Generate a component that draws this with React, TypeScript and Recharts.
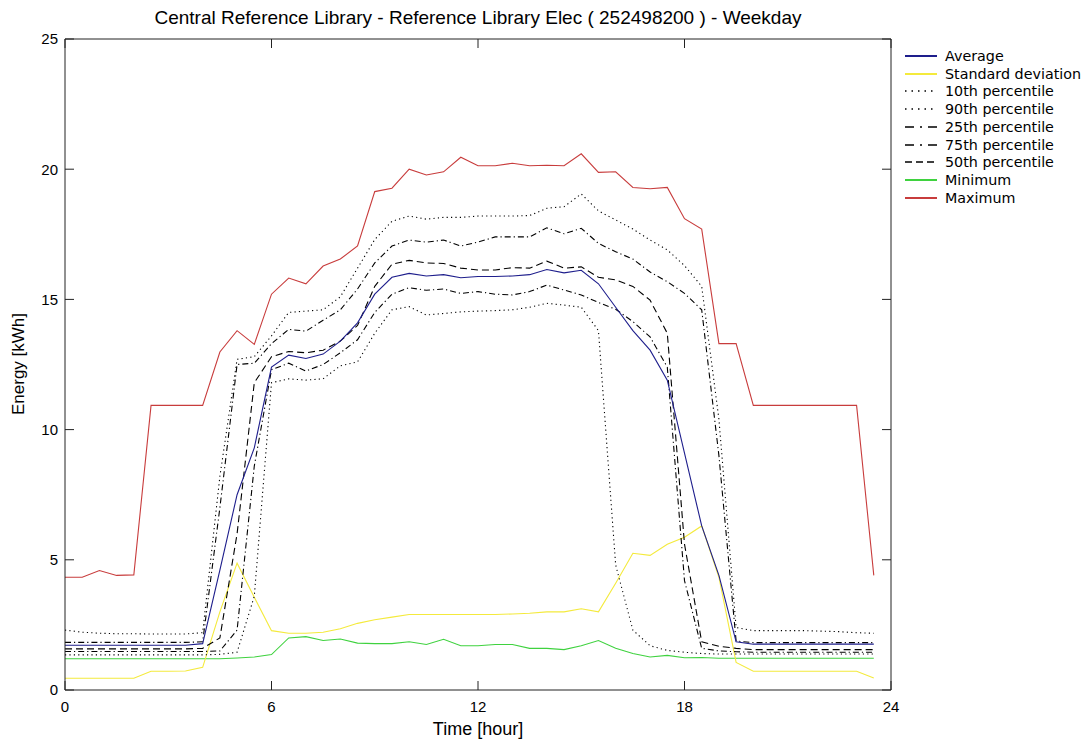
import React from "react";
import { LineChart, Line, XAxis, YAxis } from "recharts";

// half-hour steps of the weekday profile
const hours = [
  0, 0.5, 1, 1.5, 2, 2.5, 3, 3.5, 4, 4.5, 5, 5.5, 6, 6.5, 7, 7.5, 8, 8.5, 9, 9.5,
  10, 10.5, 11, 11.5, 12, 12.5, 13, 13.5, 14, 14.5, 15, 15.5, 16, 16.5, 17, 17.5,
  18, 18.5, 19, 19.5, 20, 20.5, 21, 21.5, 22, 22.5, 23, 23.5,
];

const average = [
  1.72, 1.72, 1.72, 1.72, 1.72, 1.72, 1.72, 1.72, 1.78, 4.6, 7.5, 9.3, 12.4, 12.86, 12.73, 12.9,
  13.4, 14.1, 15.2, 15.85, 16.0, 15.9, 15.95, 15.83, 15.88, 15.88, 15.9, 15.95, 16.15, 16.02, 16.12, 15.6,
  14.7, 13.8, 13.05, 11.9, 9.1, 6.3, 4.4, 1.85, 1.76, 1.76, 1.76, 1.76, 1.76, 1.76, 1.76, 1.76,
];

const stdDev = [
  0.45, 0.45, 0.45, 0.45, 0.45, 0.72, 0.72, 0.73, 0.87, 3.0, 4.87, 3.56, 2.28, 2.18, 2.18, 2.22,
  2.35, 2.56, 2.7, 2.8, 2.9, 2.9, 2.9, 2.9, 2.9, 2.9, 2.92, 2.95, 3.0, 3.0, 3.12, 3.0,
  4.1, 5.25, 5.17, 5.6, 5.87, 6.3, 4.33, 1.06, 0.72, 0.72, 0.72, 0.72, 0.72, 0.72, 0.72, 0.46,
];

const p10 = [
  1.35, 1.35, 1.35, 1.35, 1.35, 1.35, 1.35, 1.35, 1.35, 1.37, 1.45, 3.6, 11.8, 11.95, 11.9, 11.95,
  12.45, 12.6, 13.7, 14.6, 14.72, 14.4, 14.46, 14.52, 14.55, 14.57, 14.6, 14.7, 14.85, 14.78, 14.7, 13.8,
  4.8, 2.3, 1.7, 1.52, 1.45, 1.4, 1.38, 1.38, 1.38, 1.38, 1.38, 1.38, 1.38, 1.38, 1.38, 1.38,
];

const p90 = [
  2.3, 2.22, 2.18, 2.16, 2.16, 2.15, 2.15, 2.15, 2.2, 8.2, 12.7, 12.8, 13.6, 14.5, 14.55, 14.6,
  15.1, 16.2, 17.3, 18.0, 18.2, 18.08, 18.15, 18.15, 18.2, 18.2, 18.2, 18.22, 18.5, 18.56, 19.05, 18.4,
  18.05, 17.7, 17.28, 16.9, 16.3, 15.5, 10.4, 2.4, 2.28, 2.28, 2.28, 2.28, 2.26, 2.24, 2.2, 2.18,
];

const p25 = [
  1.48, 1.48, 1.48, 1.48, 1.48, 1.48, 1.48, 1.48, 1.48, 1.5, 2.3, 8.6, 12.3, 12.55, 12.25, 12.5,
  12.95, 13.45, 14.5, 15.2, 15.45, 15.35, 15.4, 15.23, 15.3, 15.2, 15.17, 15.3, 15.55, 15.36, 15.17, 14.88,
  14.62, 14.15, 13.56, 12.4, 4.2, 1.6, 1.5, 1.47, 1.45, 1.45, 1.45, 1.45, 1.45, 1.45, 1.45, 1.45,
];

const p75 = [
  1.83, 1.83, 1.83, 1.83, 1.83, 1.83, 1.83, 1.83, 1.85, 7.0, 12.5, 12.55, 13.3, 13.85, 13.78, 14.2,
  14.6, 15.4, 16.4, 17.05, 17.28, 17.2, 17.28, 17.05, 17.2, 17.4, 17.4, 17.4, 17.75, 17.52, 17.73, 17.15,
  16.83, 16.55, 16.05, 15.68, 15.23, 14.6, 9.0, 1.88, 1.82, 1.82, 1.82, 1.82, 1.82, 1.82, 1.82, 1.82,
];

const p50 = [
  1.58, 1.58, 1.58, 1.58, 1.58, 1.58, 1.58, 1.58, 1.6, 2.0, 6.0, 11.8, 12.8, 13.0, 12.95, 13.05,
  13.4, 14.0, 15.5, 16.35, 16.5, 16.4, 16.38, 16.2, 16.13, 16.13, 16.22, 16.2, 16.47, 16.2, 16.25, 15.85,
  15.75, 15.5, 14.97, 13.7, 5.6, 1.85, 1.68, 1.6, 1.55, 1.55, 1.55, 1.55, 1.55, 1.55, 1.55, 1.55,
];

const minimum = [
  1.2, 1.2, 1.2, 1.2, 1.2, 1.2, 1.2, 1.2, 1.2, 1.2, 1.23, 1.27, 1.36, 2.0, 2.05, 1.9,
  1.96, 1.8, 1.78, 1.78, 1.85, 1.75, 1.95, 1.7, 1.7, 1.75, 1.75, 1.6, 1.6, 1.55, 1.7, 1.9,
  1.6, 1.4, 1.27, 1.33, 1.24, 1.25, 1.22, 1.22, 1.22, 1.22, 1.22, 1.22, 1.22, 1.22, 1.22, 1.22,
];

const maximum = [
  4.33, 4.33, 4.59, 4.4, 4.42, 10.93, 10.93, 10.93, 10.93, 12.98, 13.8, 13.27, 15.2, 15.82, 15.6, 16.28,
  16.55, 17.05, 19.14, 19.27, 20.0, 19.78, 19.9, 20.46, 20.13, 20.13, 20.23, 20.13, 20.15, 20.13, 20.59, 19.88,
  19.9, 19.3, 19.25, 19.3, 18.1, 17.7, 13.3, 13.3, 10.93, 10.93, 10.93, 10.93, 10.93, 10.93, 10.93, 4.4,
];

const xTicks = [0, 6, 12, 18, 24];
const yTicks = [0, 5, 10, 15, 20, 25];

const data = hours.map((h, i) => ({
  hour: h,
  average: average[i],
  stdDev: stdDev[i],
  p10: p10[i],
  p90: p90[i],
  p25: p25[i],
  p75: p75[i],
  p50: p50[i],
  minimum: minimum[i],
  maximum: maximum[i],
}));

const DOT = "1.2 3.2";
const DASHDOT = "6 3 1.2 3";
const DASH = "7 4";

const series = [
  { key: "average", name: "Average", color: "#1e1e8c", dash: undefined },
  { key: "stdDev", name: "Standard deviation", color: "#f4ea3c", dash: undefined },
  { key: "p10", name: "10th percentile", color: "#000", dash: DOT },
  { key: "p90", name: "90th percentile", color: "#000", dash: DOT },
  { key: "p25", name: "25th percentile", color: "#000", dash: DASHDOT },
  { key: "p75", name: "75th percentile", color: "#000", dash: DASHDOT },
  { key: "p50", name: "50th percentile", color: "#000", dash: DASH },
  { key: "minimum", name: "Minimum", color: "#3fd23f", dash: undefined },
  { key: "maximum", name: "Maximum", color: "#c83c3c", dash: undefined },
];

// draw order: lower layers first
const drawOrder = ["minimum", "stdDev", "p10", "p90", "p25", "p75", "p50", "maximum", "average"];

const font = "'Liberation Sans', Arial, sans-serif";
const tickStyle = { fontSize: 15, fill: "#000", fontFamily: font };
const axisLine = { stroke: "#222" };

export default function App() {
  return (
    <div
      style={{
        position: "absolute",
        left: 0,
        top: 0,
        width: 1092,
        height: 740,
        background: "#fff",
        fontFamily: font,
      }}
    >
      <div
        style={{
          position: "absolute",
          left: 0,
          width: 956,
          top: 7,
          textAlign: "center",
          fontSize: 19,
          whiteSpace: "nowrap",
        }}
      >
        Central Reference Library - Reference Library Elec ( 252498200 ) - Weekday
      </div>
      <div
        style={{
          position: "absolute",
          left: 19,
          top: 364,
          fontSize: 17,
          transform: "translate(-50%, -50%) rotate(-90deg)",
          whiteSpace: "nowrap",
        }}
      >
        Energy [kWh]
      </div>
      <div
        style={{
          position: "absolute",
          left: 0,
          width: 956,
          top: 719,
          textAlign: "center",
          fontSize: 18,
        }}
      >
        Time [hour]
      </div>

      <LineChart
        width={1092}
        height={740}
        data={data}
        margin={{ top: 38, right: 200, bottom: 20, left: 15 }}
      >
        <XAxis
          xAxisId="b"
          dataKey="hour"
          type="number"
          domain={[0, 24]}
          ticks={xTicks}
          height={30}
          tickSize={-9}
          tickMargin={20}
          tick={tickStyle}
          axisLine={axisLine}
          tickLine={{ stroke: "#222" }}
          allowDataOverflow
        />
        <XAxis
          xAxisId="t"
          orientation="top"
          dataKey="hour"
          type="number"
          domain={[0, 24]}
          ticks={xTicks}
          height={1}
          tickSize={-9}
          tickFormatter={() => ""}
          axisLine={axisLine}
          tickLine={{ stroke: "#222" }}
          allowDataOverflow
        />
        <YAxis
          yAxisId="l"
          type="number"
          domain={[0, 25]}
          ticks={yTicks}
          width={50}
          tickSize={-9}
          tickMargin={16}
          tick={tickStyle}
          axisLine={axisLine}
          tickLine={{ stroke: "#222" }}
          allowDataOverflow
        />
        <YAxis
          yAxisId="r"
          orientation="right"
          type="number"
          domain={[0, 25]}
          ticks={yTicks}
          width={1}
          tickSize={-9}
          tickFormatter={() => ""}
          axisLine={axisLine}
          tickLine={{ stroke: "#222" }}
          allowDataOverflow
        />
        {drawOrder.map((k) => {
          const s = series.find((x) => x.key === k)!;
          return (
            <Line
              key={s.key}
              xAxisId="b"
              yAxisId="l"
              type="linear"
              dataKey={s.key}
              name={s.name}
              stroke={s.color}
              strokeWidth={1.1}
              strokeDasharray={s.dash}
              dot={false}
              activeDot={false}
              isAnimationActive={false}
            />
          );
        })}
      </LineChart>

      <div
        style={{
          position: "absolute",
          left: 904,
          top: 47,
          fontFamily: "'DejaVu Sans', sans-serif",
          fontSize: 14.3,
        }}
      >
        {series.map((s) => (
          <div
            key={s.key}
            style={{ display: "flex", alignItems: "center", height: 17.75, whiteSpace: "nowrap" }}
          >
            <svg width={34} height={10} style={{ marginRight: 7 }}>
              <line
                x1={1}
                x2={33}
                y1={5}
                y2={5}
                stroke={s.color}
                strokeWidth={s.dash ? 1.5 : 2}
                strokeDasharray={s.dash === DOT ? "1.5 5" : s.dash === DASHDOT ? "9 6 2 6" : s.dash}
              />
            </svg>
            <span>{s.name}</span>
          </div>
        ))}
      </div>
    </div>
  );
}
